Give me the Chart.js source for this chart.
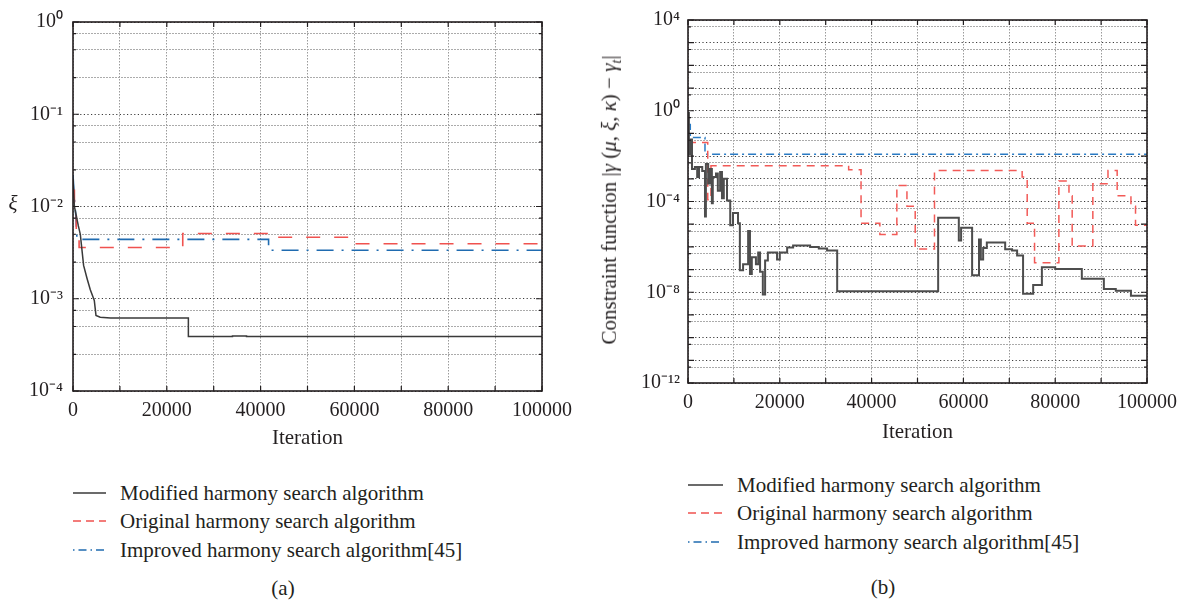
<!DOCTYPE html>
<html>
<head>
<meta charset="utf-8">
<script src="https://cdn.jsdelivr.net/npm/chart.js@4.4.1/dist/chart.umd.min.js"></script>
<style>
  body { margin: 0; background: #fff; width: 1191px; height: 603px; overflow: hidden; position: relative;
         font-family: "Liberation Serif", "DejaVu Serif", serif; color: #231f20; }
  canvas { position: absolute; top: 0; }
  .row { position: absolute; height: 28px; line-height: 28px; display: flex; align-items: center;
         font-size: 21px; white-space: nowrap; }
  .row svg { margin-right: 14px; }
  .cap { position: absolute; font-size: 21px; transform: translate(-50%, -50%); }
  .ytitle { position: absolute; font-size: 21px; white-space: nowrap; transform: translate(-50%, -50%) rotate(-90deg); }
  i { font-style: italic; }
</style>
</head>
<body>
<canvas id="chartA" width="580" height="460" style="left:0;width:580px;height:460px"></canvas>
<canvas id="chartB" width="591" height="460" style="left:600px;width:591px;height:460px"></canvas>

<div class="cap" style="left:13px;top:203px"><i>ξ</i></div>
<div class="ytitle" style="left:611px;top:200px">Constraint function |<i>γ</i> (<i>μ</i>, <i>ξ</i>, <i>κ</i>) − <i>γ</i><sub style="font-size:14px"><i>t</i></sub>|</div>

<div id="legendA"></div>
<div id="legendB"></div>
<div class="cap" style="left:283px;top:588px">(a)</div>
<div class="cap" style="left:883px;top:587px">(b)</div>

<script>
// ---- (a) xi vs iteration ----
const iterModA = [0, 300, 770, 1130, 1560, 1830, 2260, 2980, 3690, 4540, 4900, 5800, 8000, 24600, 24600, 34000, 34000, 37000, 37000, 100000];
const xiModA = [0.02, 0.0100, 0.0076, 0.0062, 0.0050, 0.0037, 0.0023, 0.00167, 0.00125, 0.00096, 0.00066, 0.00063, 0.00062, 0.00062, 0.00039, 0.00039, 0.000395, 0.000395, 0.00039, 0.00039];
const iterOrigA = [0, 300, 300, 700, 700, 1300, 1300, 23400, 23400, 42000, 42000, 59500, 59500, 100000];
const xiOrigA = [0.015, 0.015, 0.008, 0.008, 0.0055, 0.0055, 0.0036, 0.0036, 0.0051, 0.0051, 0.00465, 0.00465, 0.00394, 0.00394];
const iterImprA = [0, 300, 600, 850, 41700, 41700, 100000];
const xiImprA = [0.022, 0.012, 0.008, 0.0044, 0.0044, 0.00336, 0.00336];

// ---- (b) constraint function, stepped: iteration where the value changes, new value ----
const iterModB = [0, 200, 440, 870, 1500, 2000, 2400, 3100, 3700, 3900, 4400, 4800, 5200, 5400, 6100, 6500, 7000, 7400, 7800, 8500,
  9200, 9800, 10900, 11300, 12000, 13100, 13500, 13900, 14800, 15300, 15700, 16300, 16800, 17400, 19400, 20000, 21600, 22900,
  26600, 28500, 30300, 32500, 54500, 59000, 59500, 61900, 63400, 63800, 64300, 65100, 69100, 70600, 71700, 73000, 75200, 77100,
  80000, 85800, 90600, 93200, 96500, 100000];
const consModB = [0.8, 0.012, 0.054, 2.7e-3, 3.3e-3, 1.2e-3, 3.3e-3, 2.2e-3, 2.2e-5, 4.5e-3, 6.2e-4, 2.7e-3, 8.3e-5, 1.2e-3, 1.7e-3, 3e-4, 2e-3, 1.4e-4, 1e-3, 1.1e-4,
  9e-6, 3.1e-5, 1.1e-5, 9.3e-8, 1.7e-7, 5e-6, 6.3e-8, 3.5e-7, 1.7e-7, 5.6e-7, 8e-8, 8e-9, 2.5e-7, 5.6e-7, 2.8e-7, 5.6e-7, 9.3e-7, 1.15e-6,
  1.0e-6, 8.5e-7, 6.9e-7, 1.1e-8, 1.9e-5, 1.9e-6, 6.9e-6, 5.6e-8, 2.1e-6, 2.8e-7, 9e-7, 1.55e-6, 7.9e-7, 7e-7, 4.2e-7, 8.5e-9, 2.1e-8, 1.26e-7,
  1.05e-7, 3.9e-8, 1.4e-8, 1.15e-8, 7e-9, 7e-9];
const iterOrigB = [0, 4300, 5000, 35000, 37700, 41800, 45500, 47700, 49500, 53700, 72800, 73900, 75500, 80800, 83000, 83700, 88200, 91500, 93500, 96500, 97500, 100000];
const consOrigB = [0.04, 1.2e-4, 3.8e-3, 2.5e-3, 1.1e-5, 3.5e-6, 5.1e-4, 6.2e-5, 8e-7, 2.3e-3, 1.2e-3, 1.1e-5, 2e-7, 8e-4, 1.8e-4, 1.1e-6, 6e-4, 2.3e-3, 1.8e-4, 6.2e-5, 9e-6, 9e-6];
const iterImprB = [0, 500, 3700, 100000];
const consImprB = [0.25, 0.066, 0.012, 0.012];

// ticks
const xTickLabels = [0, 20000, 40000, 60000, 80000, 100000];
const decadesA = [-4, -3, -2, -1, 0];
const minorFactorsA = [0.25, 0.5, 0.75];
const decadesB = [-12, -11, -10, -9, -8, -7, -6, -5, -4, -3, -2, -1, 0, 1, 2, 3, 4];
const minorFactorsB = [0.5];
const labelDecadesB = [-12, -8, -4, 0, 4];

const names = ["Modified harmony search algorithm", "Original harmony search algorithm", "Improved harmony search algorithm[45]"];
const ink = "#231f20";
const tickFont = { family: "Liberation Serif", size: 20 };

const sup = { "-": "\u207B", "0": "\u2070", "1": "\u00B9", "2": "\u00B2", "3": "\u00B3", "4": "\u2074", "8": "\u2078" };
function powLabel(k) {
  return "10" + String(k).split("").map(c => sup[c]).join("");
}
function isDecade(v) {
  const l = Math.log10(v);
  return Math.abs(l - Math.round(l)) < 1e-6;
}
function logTicks(decades, factors) {
  const vals = [];
  decades.forEach((k, i) => {
    vals.push(Math.pow(10, k));
    if (i > 0) factors.forEach(f => vals.push(f * Math.pow(10, k)));
  });
  return vals.sort((a, b) => a - b).map(v => ({ value: v }));
}
function pts(xs, ys) {
  return xs.map((x, i) => ({ x: x, y: ys[i] }));
}

// frame and inward tick marks
const framePlugin = {
  id: "frame",
  afterDatasetsDraw(chart) {
    const { ctx, chartArea: a, scales } = chart;
    ctx.save();
    ctx.setLineDash([]);
    ctx.strokeStyle = ink;
    ctx.lineWidth = 1.2;
    scales.x.ticks.forEach(t => {
      const px = scales.x.getPixelForValue(t.value);
      ctx.beginPath();
      ctx.moveTo(px, a.bottom); ctx.lineTo(px, a.bottom - 5);
      ctx.moveTo(px, a.top); ctx.lineTo(px, a.top + 5);
      ctx.stroke();
    });
    scales.y.ticks.forEach(t => {
      const py = scales.y.getPixelForValue(t.value);
      const len = isDecade(t.value) ? 6 : 3;
      ctx.beginPath();
      ctx.moveTo(a.left, py); ctx.lineTo(a.left + len, py);
      ctx.moveTo(a.right, py); ctx.lineTo(a.right - len, py);
      ctx.stroke();
    });
    ctx.lineWidth = 1.6;
    ctx.strokeRect(a.left, a.top, a.right - a.left, a.bottom - a.top);
    ctx.restore();
  }
};

function makeChart(id, cfg) {
  const ctx = document.getElementById(id).getContext("2d");
  return new Chart(ctx, {
    type: "line",
    data: { datasets: cfg.datasets },
    options: {
      responsive: false,
      animation: false,
      devicePixelRatio: 1,
      layout: { padding: { top: 13, right: cfg.padRight, left: 0, bottom: 0 } },
      elements: { point: { radius: 0 }, line: { tension: 0 } },
      plugins: { legend: { display: false }, tooltip: { enabled: false } },
      scales: {
        x: {
          type: "linear", min: 0, max: 100000,
          afterFit: s => { s.height = cfg.xHeight; },
          ticks: {
            stepSize: 10000, autoSkip: false, maxRotation: 0, padding: 8, color: ink, font: tickFont,
            callback: v => xTickLabels.includes(v) ? String(v) : ""
          },
          grid: { color: "#9a9a9a", lineWidth: 1, drawTicks: false },
          border: { display: false, dash: [1.5, 1.5] },
          title: { display: true, text: "Iteration", color: ink, font: { family: "Liberation Serif", size: 21 },
                   padding: { top: 4, bottom: cfg.titlePad } }
        },
        y: {
          type: "logarithmic", min: cfg.yMin, max: cfg.yMax,
          afterFit: s => { s.width = cfg.yWidth; },
          afterBuildTicks: s => { s.ticks = cfg.yTicks; },
          ticks: {
            autoSkip: false, padding: cfg.yPad, color: ink, font: tickFont,
            callback: v => cfg.showLabel(v) ? powLabel(Math.round(Math.log10(v))) : ""
          },
          grid: {
            drawTicks: false, lineWidth: 1,
            color: c => isDecade(c.tick.value) ? "#3c3c3c" : "#ababab"
          },
          border: {
            display: false,
            dash: c => (c.tick && isDecade(c.tick.value)) ? [1.2, 2.4] : [2, 1]
          }
        }
      }
    },
    plugins: [framePlugin]
  });
}

makeChart("chartA", {
  padRight: 38, xHeight: 69, titlePad: 9, yWidth: 73, yPad: 10,
  yMin: 1e-4, yMax: 1, yTicks: logTicks(decadesA, minorFactorsA),
  showLabel: v => isDecade(v) && decadesA.includes(Math.round(Math.log10(v))),
  datasets: [
    { label: names[0], data: pts(iterModA, xiModA), borderColor: "#3a3a3a", borderWidth: 1.5 },
    { label: names[1], data: pts(iterOrigA, xiOrigA), borderColor: "#f0524f", borderWidth: 1.6, borderDash: [14, 14] },
    { label: names[2], data: pts(iterImprA, xiImprA), borderColor: "#1f6bb0", borderWidth: 1.6, borderDash: [17, 8, 2, 8] }
  ]
});

makeChart("chartB", {
  padRight: 44, xHeight: 77, titlePad: 15, yWidth: 88, yPad: 8,
  yMin: 1e-12, yMax: 1e4, yTicks: logTicks(decadesB, minorFactorsB),
  showLabel: v => isDecade(v) && labelDecadesB.includes(Math.round(Math.log10(v))),
  datasets: [
    { label: names[0], data: pts(iterModB, consModB), stepped: true, borderColor: "#4d4d4d", borderWidth: 2 },
    { label: names[1], data: pts(iterOrigB, consOrigB), stepped: true, borderColor: "#f25a57", borderWidth: 1.5, borderDash: [8, 6] },
    { label: names[2], data: pts(iterImprB, consImprB), stepped: true, borderColor: "#2a7bc4", borderWidth: 1.5, borderDash: [8, 4, 2, 4] }
  ]
});

// legends below each panel
const legendStyles = [
  { color: "#3a3a3a", dash: "" },
  { color: "#f0524f", dash: "8,5" },
  { color: "#1f6bb0", dash: "1.5,4,8,4" }
];
function buildLegend(id, left, rowsY, sampleW) {
  const host = document.getElementById(id);
  names.forEach((name, i) => {
    const row = document.createElement("div");
    row.className = "row";
    row.style.left = left + "px";
    row.style.top = (rowsY[i] - 14) + "px";
    const st = legendStyles[i];
    row.innerHTML = '<svg width="' + sampleW + '" height="4"><line x1="0" y1="2" x2="' + sampleW + '" y2="2" stroke="' + st.color +
      '" stroke-width="1.5"' + (st.dash ? ' stroke-dasharray="' + st.dash + '"' : "") + '/></svg><span>' + name + "</span>";
    host.appendChild(row);
  });
}
buildLegend("legendA", 73, [493, 521, 550], 33);
buildLegend("legendB", 688, [485, 513, 542], 35);
</script>
</body>
</html>
